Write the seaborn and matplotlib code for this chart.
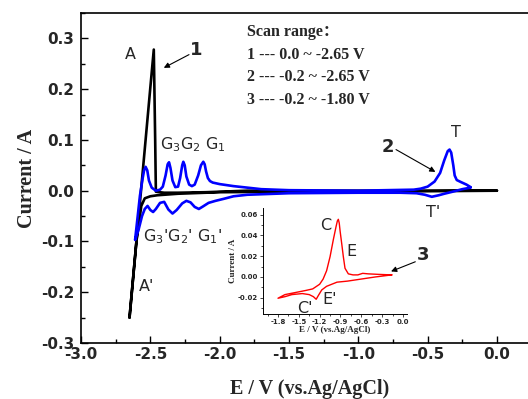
import matplotlib
matplotlib.use("Agg")
import matplotlib.pyplot as plt
import seaborn as sns
from matplotlib.ticker import MultipleLocator, FixedLocator

# ---------------- data ----------------
# Scan 1 (black): 0.0 -> -2.65 -> 0.0 V
scan1_E = [0.0, -0.5, -1.0, -1.5, -2.0, -2.3, -2.45, -2.50, -2.54, -2.565, -2.60, -2.65,
           -2.60, -2.55, -2.50, -2.475, -2.465, -2.46, -2.40, -2.30, -2.10, -2.0, -1.8,
           -1.5, -1.0, -0.5, 0.0]
scan1_I = [0.0, -0.001, -0.002, -0.002, -0.003, -0.006, -0.009, -0.011, -0.015, -0.03, -0.099, -0.25,
           -0.099, 0.052, 0.203, 0.278, 0.10, -0.002, -0.004, -0.004, -0.003, -0.002, 0.0,
           0.0, 0.0, 0.0, 0.0]

# Scan 2 (blue): -0.2 -> -2.65 -> -0.2 V
scan2_E = [-0.19, -0.25, -0.32, -0.38, -0.42, -0.47, -0.52, -0.58, -0.70, -1.0, -1.5, -1.8,
           -1.9, -1.97, -2.03, -2.08, -2.12, -2.15, -2.18, -2.21, -2.24, -2.27, -2.31,
           -2.34, -2.37, -2.40, -2.43, -2.46, -2.48, -2.50, -2.52, -2.54, -2.56, -2.585, -2.61,
           -2.595, -2.575, -2.555, -2.545, -2.534, -2.522, -2.51, -2.49, -2.46, -2.43,
           -2.41, -2.39, -2.375, -2.365, -2.355, -2.34, -2.32, -2.30, -2.285, -2.27,
           -2.262, -2.252, -2.24, -2.22, -2.20, -2.18, -2.155, -2.135, -2.118, -2.108,
           -2.098, -2.085, -2.07, -2.05, -2.0, -1.9, -1.8, -1.7, -1.5, -1.0, -0.6,
           -0.55, -0.50, -0.45, -0.41, -0.38, -0.355, -0.342, -0.33, -0.315, -0.305,
           -0.29, -0.26, -0.22, -0.19]
scan2_I = [0.006, 0.003, -0.002, -0.006, -0.009, -0.012, -0.008, -0.005, -0.004, -0.004, -0.005, -0.008,
           -0.011, -0.016, -0.020, -0.024, -0.031, -0.036, -0.032, -0.023, -0.020, -0.025, -0.038,
           -0.045, -0.037, -0.022, -0.024, -0.036, -0.042, -0.038, -0.030, -0.036, -0.050, -0.077, -0.097,
           -0.06, -0.01, 0.025, 0.040, 0.047, 0.040, 0.020, 0.006, 0.0, 0.002,
           0.008, 0.030, 0.052, 0.056, 0.045, 0.020, 0.007, 0.008, 0.025, 0.050,
           0.057, 0.050, 0.028, 0.012, 0.009, 0.012, 0.030, 0.050, 0.057, 0.052,
           0.038, 0.025, 0.019, 0.016, 0.013, 0.009, 0.006, 0.003, 0.001, 0.0, 0.002,
           0.004, 0.008, 0.018, 0.035, 0.060, 0.078, 0.081, 0.075, 0.050, 0.030,
           0.021, 0.017, 0.012, 0.007]

# Scan 3 (red, inset): -0.2 -> -1.80 -> -0.2 V
scan3_E = [-0.16, -0.4, -0.6, -0.8, -0.95, -1.1, -1.17, -1.22, -1.25, -1.29, -1.35, -1.45, -1.6, -1.7, -1.8,
           -1.7, -1.55, -1.4, -1.3, -1.2, -1.15, -1.1, -1.05, -1.003, -0.964, -0.945, -0.931,
           -0.918, -0.905, -0.882, -0.859, -0.835, -0.787, -0.72, -0.65, -0.58, -0.5, -0.35, -0.16]
scan3_I = [0.002, 0.0, -0.002, -0.004, -0.005, -0.009, -0.0125, -0.018, -0.0215, -0.019, -0.017, -0.016, -0.017, -0.019, -0.0205,
           -0.017, -0.015, -0.013, -0.0115, -0.007, -0.002, 0.006, 0.0196, 0.036, 0.0485, 0.054, 0.0556,
           0.052, 0.044, 0.032, 0.0196, 0.0084, 0.003, 0.002, 0.002, 0.0035, 0.003, 0.0025, 0.002]

main_xticks = [-3.0, -2.5, -2.0, -1.5, -1.0, -0.5, 0.0]
main_yticks = [-0.3, -0.2, -0.1, 0.0, 0.1, 0.2, 0.3]
inset_xticks = [-1.8, -1.5, -1.2, -0.9, -0.6, -0.3, 0.0]
inset_yticks = [-0.02, 0.00, 0.02, 0.04, 0.06]

scan_text = ["Scan range\uff1a", "1 --- 0.0 ~ -2.65 V", "2 --- -0.2 ~ -2.65 V", "3 --- -0.2 ~ -1.80 V"]

# ---------------- style ----------------
sns.set_style("ticks")
plt.rcParams["font.family"] = ["DejaVu Sans"]
plt.rcParams["axes.unicode_minus"] = False
plt.rcParams["mathtext.default"] = "regular"

fig = plt.figure(figsize=(5.28, 3.99), dpi=100)
ax = fig.add_axes([81/528, (399-343)/399, 1.0 - 81/528 + 0.02, (343-13)/399])

sns.lineplot(x=scan1_E, y=scan1_I, sort=False, estimator=None, color="black", lw=1.9, ax=ax)
sns.lineplot(x=scan2_E, y=scan2_I, sort=False, estimator=None, color="#0000ff", lw=1.9, ax=ax)

ax.set_xlim(-3.0, 0.3)
ax.set_ylim(-0.3, 0.35)
ax.xaxis.set_major_locator(FixedLocator(main_xticks))
ax.yaxis.set_major_locator(FixedLocator(main_yticks))
ax.set_xticklabels([f"{v:.1f}" for v in main_xticks])
ax.set_yticklabels([f"{v:.1f}" for v in main_yticks])
ax.xaxis.set_minor_locator(MultipleLocator(0.25))
ax.yaxis.set_minor_locator(MultipleLocator(0.05))
ax.tick_params(which="both", direction="in", top=False, right=False, width=1.0, color="black")
ax.tick_params(which="major", length=5)
ax.tick_params(which="minor", length=3)
ax.tick_params(axis="x", pad=3)
ax.tick_params(axis="y", pad=5)
for lab in ax.get_xticklabels() + ax.get_yticklabels():
    lab.set_fontweight("bold")
    lab.set_fontsize(11)
for s in ax.spines.values():
    s.set_linewidth(1.2)
    s.set_color("black")

serif = ["Liberation Serif", "Noto Sans CJK SC", "DejaVu Serif"]
ax.set_xlabel("E / V (vs.Ag/AgCl)", family=serif, fontweight="bold", fontsize=14.5, labelpad=12)
ax.set_ylabel("Current / A", family=serif, fontweight="bold", fontsize=14.5, labelpad=3)

# labels
lab_kw = dict(fontsize=11.5, ha="center", va="center")
ax.text(-2.643, 0.268, "A", **lab_kw)
ax.text(-2.527, -0.189, "A'", **lab_kw)
ax.text(-2.19, 0.090, "G$_3$G$_2$ G$_1$", **lab_kw)
ax.text(-2.264, -0.090, "G$_3$'G$_2$' G$_1$'", **lab_kw)
ax.text(-0.298, 0.114, "T", **lab_kw)
ax.text(-0.458, -0.043, "T'", **lab_kw)

arr = dict(arrowstyle="-|>", lw=0.8, color="black", mutation_scale=8, shrinkA=0, shrinkB=0)
ax.text(-2.17, 0.278, "1", fontsize=13, fontweight="bold", ha="center", va="center")
ax.annotate("", xy=(-2.403, 0.242), xytext=(-2.221, 0.268), arrowprops=arr)
ax.text(-0.786, 0.087, "2", fontsize=13, fontweight="bold", ha="center", va="center")
ax.annotate("", xy=(-0.444, 0.037), xytext=(-0.728, 0.081), arrowprops=arr)
ax.text(-0.531, -0.126, "3", fontsize=13, fontweight="bold", ha="center", va="center", zorder=10)
ax.annotate("", xy=(-0.764, -0.159), xytext=(-0.589, -0.140), arrowprops=arr, zorder=10)

for i, t in enumerate(scan_text):
    ax.text(-1.80, 0.313 - i * 0.045, t, family=serif, fontweight="bold", fontsize=11.5,
            ha="left", va="center")

# ---------------- inset ----------------
ins = fig.add_axes([263/528, (399-314)/399, (407-263)/528, (314-208)/399])
ins.patch.set_alpha(0)
sns.lineplot(x=scan3_E, y=scan3_I, sort=False, estimator=None, color="#ff0000", lw=1.0, ax=ins)
ins.set_xlim(-2.016, 0.058)
ins.set_ylim(-0.0357, 0.0665)
ins.xaxis.set_major_locator(FixedLocator(inset_xticks))
ins.yaxis.set_major_locator(FixedLocator(inset_yticks))
ins.set_xticklabels([f"{v:.1f}" for v in inset_xticks])
ins.set_yticklabels([f"{v:.2f}" for v in inset_yticks])
ins.xaxis.set_minor_locator(MultipleLocator(0.15))
ins.yaxis.set_minor_locator(MultipleLocator(0.01))
ins.tick_params(which="both", direction="out", top=False, right=False, width=0.6, pad=1)
ins.tick_params(which="major", length=2.5)
ins.tick_params(which="minor", length=1.5)
for lab in ins.get_xticklabels() + ins.get_yticklabels():
    lab.set_fontweight("bold")
    lab.set_fontsize(5)
ins.spines["top"].set_visible(False)
ins.spines["right"].set_visible(False)
for s in ("left", "bottom"):
    ins.spines[s].set_linewidth(0.7)
    ins.spines[s].set_color("black")
ins.set_xlabel("E / V (vs.Ag/AgCl)", family=serif, fontweight="bold", fontsize=6.5, labelpad=1)
ins.set_ylabel("Current / A", family=serif, fontweight="bold", fontsize=6.5, labelpad=1)
ins.text(-1.108, 0.050, "C", **lab_kw)
ins.text(-0.738, 0.0244, "E", **lab_kw)
ins.text(-1.41, -0.030, "C'", **lab_kw)
ins.text(-1.05, -0.022, "E'", **lab_kw)

fig.savefig("out.png", dpi=100)
